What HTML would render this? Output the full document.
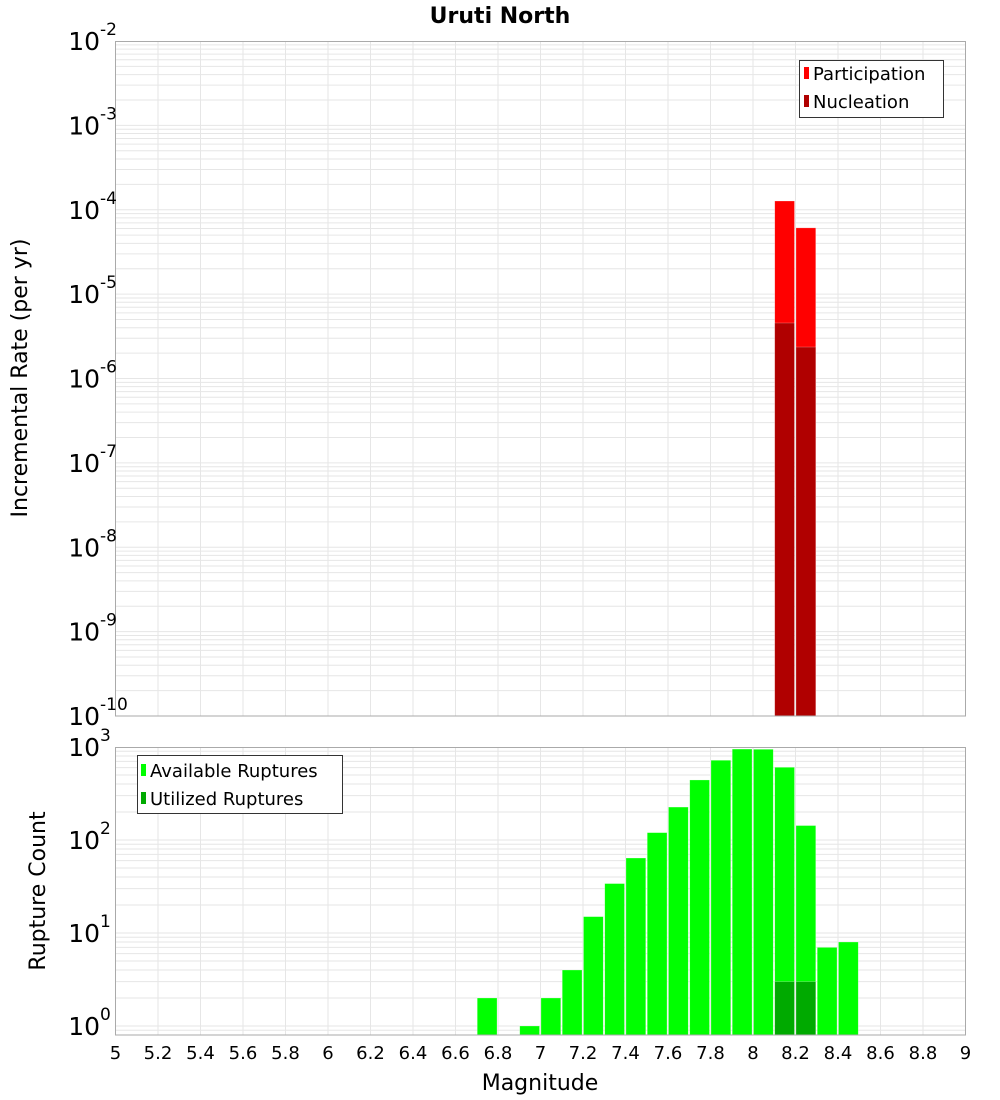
<!DOCTYPE html>
<html><head><meta charset="utf-8"><style>
body{margin:0;background:#fff;}
svg{display:block;font-family:"Liberation Sans","DejaVu Sans",sans-serif;}
</style></head><body>
<svg id="chart" width="1000" height="1100" xmlns="http://www.w3.org/2000/svg">
<text x="500" y="23" text-anchor="middle" font-size="22" font-weight="bold" font-family="DejaVu Sans, sans-serif">Uruti North</text>
<g id="topPlot"></g>
<g id="botPlot"></g>
<text transform="translate(27,378) rotate(-90)" text-anchor="middle" font-size="22" font-family="DejaVu Sans, sans-serif">Incremental Rate (per yr)</text>
<text transform="translate(45,891) rotate(-90)" text-anchor="middle" font-size="22" font-family="DejaVu Sans, sans-serif">Rupture Count</text>
<text x="540" y="1090" text-anchor="middle" font-size="22" font-family="DejaVu Sans, sans-serif">Magnitude</text>
<g>
<rect x="799.5" y="60.5" width="144" height="57" fill="#fff" stroke="#333"/>
<rect x="804" y="67" width="5" height="12" fill="#ff0000"/>
<text x="813" y="80" font-size="18" font-family="DejaVu Sans, sans-serif">Participation</text>
<rect x="804" y="95" width="5" height="12" fill="#b00000"/>
<text x="813" y="108" font-size="18" font-family="DejaVu Sans, sans-serif">Nucleation</text>
</g>
<g>
<rect x="137.5" y="755.5" width="205" height="58" fill="#fff" stroke="#333"/>
<rect x="141" y="764" width="5" height="12" fill="#00ff00"/>
<text x="150" y="777" font-size="18" font-family="DejaVu Sans, sans-serif">Available Ruptures</text>
<rect x="141" y="792" width="5" height="12" fill="#00aa00"/>
<text x="150" y="805" font-size="18" font-family="DejaVu Sans, sans-serif">Utilized Ruptures</text>
</g>
</svg>
<script>
const mags = [8.15, 8.25];
const participation = [1.27e-4, 6.1e-5];
const nucleation = [4.55e-6, 2.36e-6];
const countMags = [6.75,6.95,7.05,7.15,7.25,7.35,7.45,7.55,7.65,7.75,7.85,7.95,8.05,8.15,8.25,8.35,8.45];
const available = [2,1,2,4,15,34,64,120,226,442,720,950,945,605,143,7,8];
const utilizedMags = [8.15, 8.25];
const utilized = [3, 3];
const xTicks = ["5","5.2","5.4","5.6","5.8","6","6.2","6.4","6.6","6.8","7","7.2","7.4","7.6","7.8","8","8.2","8.4","8.6","8.8","9"];
const topExps = [-2,-3,-4,-5,-6,-7,-8,-9,-10];
const botExps = [3,2,1,0];

const NS="http://www.w3.org/2000/svg";
const X0=115.5, X1=965.5;
const xScale = m => X0 + (m-5)/4*(X1-X0);
const yTop = v => 716 - (Math.log10(v)+10)*84.375;
const yBot = v => 1026 - Math.log10(v)*93;
function mk(parent, tag, attrs){const e=document.createElementNS(NS,tag);for(const k in attrs)e.setAttribute(k,attrs[k]);parent.appendChild(e);return e;}

function grid(g, y0, y1, yf, lo, hi){
  for(let d=lo; d<hi; d++){
    for(let k=1;k<10;k++){
      const yy=yf(k*Math.pow(10,d));
      if(yy<y0||yy>y1) continue;
      const l=mk(g,'line',{x1:X0,x2:X1,y1:yy,y2:yy,stroke:'#e6e6e6','stroke-width':1});
      
      
    }
  }
  xTicks.forEach(t=>{
    const xx=xScale(+t);
    const l=mk(g,'line',{x1:xx,x2:xx,y1:y0,y2:y1,stroke:'#e6e6e6','stroke-width':1});
    
    
  });
}
function bar(g,m,v,yf,base,color,name){
  const y=yf(v);
  const r=mk(g,'rect',{x:xScale(m-0.05)+0.5,y:y,width:(X1-X0)/40-1.5,height:base-y,fill:color,stroke:'#ffffff','stroke-opacity':0.4,'stroke-width':0.6});
  
  
}
function ylab(g,yy,exp){
  const t=mk(g,'text',{x:100,y:yy+9,'text-anchor':'end','font-size':25,'font-family':'DejaVu Sans, sans-serif'});
  
  
  t.textContent='10';
  const s=mk(g,'text',{x:100,y:yy-6,'font-size':17,'font-family':'DejaVu Sans, sans-serif'});
  
  
  s.textContent=String(exp);
}

const topG=document.getElementById('topPlot');
grid(topG,41.5,716,yTop,-10,-2);
mags.forEach((m,i)=>bar(topG,m,participation[i],yTop,716,'#ff0000','participation-bar'));
mags.forEach((m,i)=>bar(topG,m,nucleation[i],yTop,716,'#b00000','nucleation-bar'));
mk(topG,'rect',{x:X0,y:41.5,width:X1-X0,height:674.5,fill:'none',stroke:'#aaa'});
topExps.forEach(e=>ylab(topG,yTop(Math.pow(10,e)),e));

const botG=document.getElementById('botPlot');
grid(botG,747.5,1035,yBot,-1,3);
countMags.forEach((m,i)=>bar(botG,m,available[i],yBot,1035,'#00ff00','available-bar'));
utilizedMags.forEach((m,i)=>bar(botG,m,utilized[i],yBot,1035,'#00aa00','utilized-bar'));
mk(botG,'rect',{x:X0,y:747.5,width:X1-X0,height:287.5,fill:'none',stroke:'#aaa'});
botExps.forEach(e=>ylab(botG,yBot(Math.pow(10,e)),e));
xTicks.forEach(t=>{
  const tx=mk(botG,'text',{x:xScale(+t),y:1059,'text-anchor':'middle','font-size':18,'font-family':'DejaVu Sans, sans-serif'});
  
  
  tx.textContent=t;
});
</script>
</body></html>
